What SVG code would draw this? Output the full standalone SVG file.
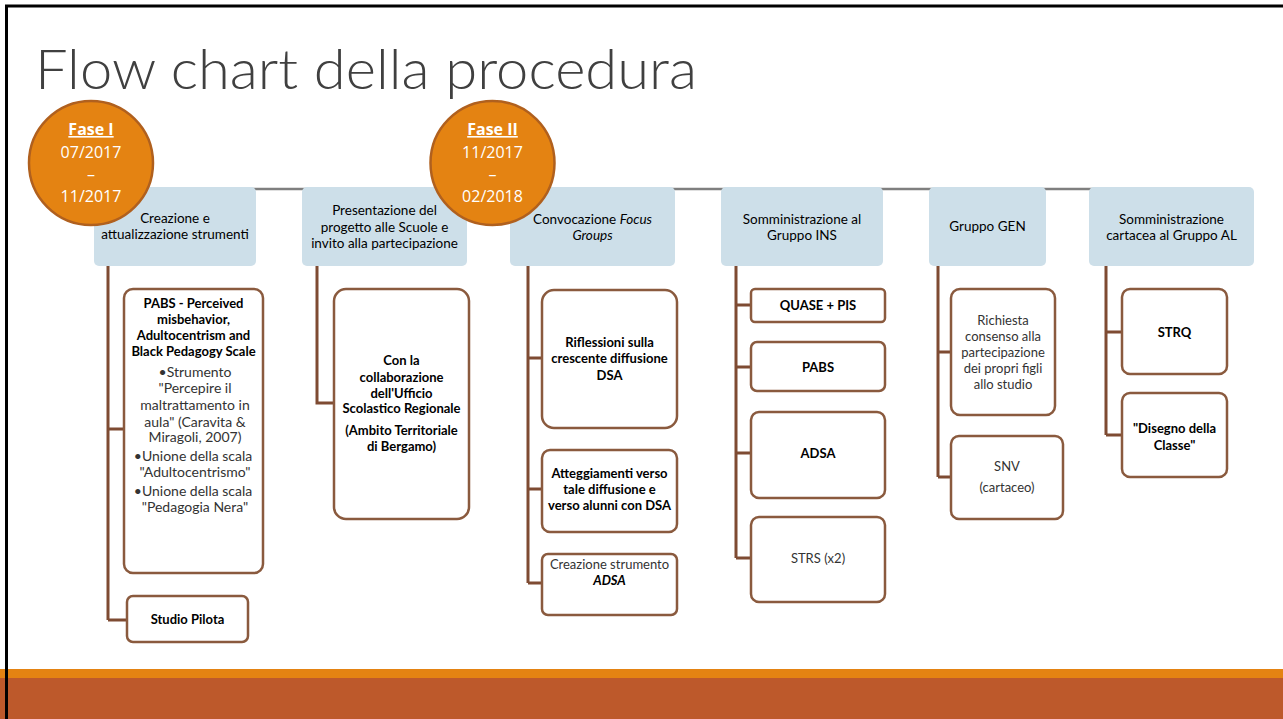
<svg xmlns="http://www.w3.org/2000/svg" width="1283" height="719" viewBox="0 0 1283 719">
<style>
.hdr{fill:#cddfe9;}
.box{fill:#ffffff;stroke:#8a5a3e;stroke-width:2.5;}
.con{fill:none;stroke:#7e4b32;stroke-width:3;}
.t{font-family:Lato,"Liberation Sans",sans-serif;font-size:13px;text-anchor:middle;fill:#000;}
.h{font-size:13.5px;}
.b{font-weight:700;}
.r{fill:#333;}
.big{font-size:14px;}
.cir{fill:#e48312;stroke:#b0601e;stroke-width:2.5;}
.ct{font-family:"Open Sans","Liberation Sans",sans-serif;font-size:16px;fill:#fff;text-anchor:middle;}
</style>
<rect x="0" y="0" width="1283" height="719" fill="#fff"/>
<rect x="6.5" y="6" width="1290" height="720" fill="none" stroke="#000" stroke-width="3"/>
<text x="35" y="89" font-family="Lato,'Open Sans','Liberation Sans',sans-serif" font-weight="300" font-size="56" fill="#404040" textLength="662" lengthAdjust="spacingAndGlyphs">Flow chart della procedura</text>

<g id="connectors">
<line x1="175" y1="189" x2="1171" y2="189" stroke="#7f7f7f" stroke-width="2.5"/>
<path class="con" d="M108 266V620M108 429H124M108 620H127"/>
<path class="con" d="M317 266V403H334"/>
<path class="con" d="M528 266V583M528 358H542M528 489H542M528 583H542"/>
<path class="con" d="M736 266V558M736 305H751M736 367H751M736 453H751M736 558H751"/>
<path class="con" d="M938 266V477M938 352H951M938 477H951"/>
<path class="con" d="M1106 266V435M1106 332H1122M1106 435H1122"/>
</g>

<g id="h1"><rect class="hdr" x="94" y="187" width="162" height="79" rx="5"/>
<text class="t h" x="175" y="223">Creazione e</text><text class="t h" x="175" y="239">attualizzazione strumenti</text></g>
<g id="h2"><rect class="hdr" x="302" y="187" width="165" height="79" rx="5"/>
<text class="t h" x="384.5" y="215">Presentazione del</text><text class="t h" x="384.5" y="232">progetto alle Scuole e</text><text class="t h" x="384.5" y="248">invito alla partecipazione</text></g>
<g id="h3"><rect class="hdr" x="510" y="187" width="165" height="79" rx="5"/>
<text class="t h" x="592.5" y="224">Convocazione <tspan font-style="italic">Focus</tspan></text><text class="t h" x="592.5" y="240" font-style="italic">Groups</text></g>
<g id="h4"><rect class="hdr" x="721" y="187" width="162" height="79" rx="5"/>
<text class="t h" x="802" y="224">Somministrazione al</text><text class="t h" x="802" y="240">Gruppo INS</text></g>
<g id="h5"><rect class="hdr" x="929" y="187" width="117" height="79" rx="5"/>
<text class="t h" x="987.5" y="231">Gruppo GEN</text></g>
<g id="h6"><rect class="hdr" x="1089" y="187" width="165" height="79" rx="5"/>
<text class="t h" x="1171.5" y="224">Somministrazione</text><text class="t h" x="1171.5" y="240">cartacea al Gruppo AL</text></g>

<g id="fase1"><circle class="cir" cx="91" cy="163" r="62"/>
<text class="ct" x="91" y="135" font-weight="700" text-decoration="underline">Fase I</text>
<text class="ct" x="91" y="158">07/2017</text><text class="ct" x="91" y="180">–</text><text class="ct" x="91" y="202">11/2017</text></g>
<g id="fase2"><circle class="cir" cx="492.5" cy="163" r="62"/>
<text class="ct" x="492.5" y="135" font-weight="700" text-decoration="underline">Fase II</text>
<text class="ct" x="492.5" y="158">11/2017</text><text class="ct" x="492.5" y="180">–</text><text class="ct" x="492.5" y="202">02/2018</text></g>

<g id="pabs1"><rect class="box" x="124" y="289" width="139" height="284" rx="9"/>
<text class="t b" x="193.5" y="308">PABS - Perceived</text>
<text class="t b" x="193.5" y="324">misbehavior,</text>
<text class="t b" x="193.5" y="340">Adultocentrism and</text>
<text class="t b" x="193.5" y="356">Black Pedagogy Scale</text>
<text class="t r big" x="195" y="377">•Strumento</text>
<text class="t r big" x="195" y="393">"Percepire il</text>
<text class="t r big" x="195" y="410">maltrattamento in</text>
<text class="t r big" x="195" y="427">aula" (Caravita &amp;</text>
<text class="t r big" x="195" y="442">Miragoli, 2007)</text>
<text class="t r big" x="193" y="461">•Unione della scala</text>
<text class="t r big" x="195" y="477">"Adultocentrismo"</text>
<text class="t r big" x="193" y="496">•Unione della scala</text>
<text class="t r big" x="195" y="512">"Pedagogia Nera"</text></g>
<g id="pilota"><rect class="box" x="127" y="596" width="121" height="46" rx="6"/>
<text class="t b" x="187.5" y="624">Studio Pilota</text></g>

<g id="collab"><rect class="box" x="334" y="289" width="135" height="230" rx="12"/>
<text class="t b" x="401.5" y="365">Con la</text>
<text class="t b" x="401.5" y="382">collaborazione</text>
<text class="t b" x="401.5" y="398">dell'Ufficio</text>
<text class="t b" x="401.5" y="413">Scolastico Regionale</text>
<text class="t b" x="401.5" y="435">(Ambito Territoriale</text>
<text class="t b" x="401.5" y="451">di Bergamo)</text></g>

<g id="rifl"><rect class="box" x="542" y="290" width="135" height="138" rx="12"/>
<text class="t b" x="609.5" y="347">Riflessioni sulla</text>
<text class="t b" x="609.5" y="363">crescente diffusione</text>
<text class="t b" x="609.5" y="380">DSA</text></g>
<g id="atteg"><rect class="box" x="542" y="450" width="135" height="82" rx="8"/>
<text class="t b" x="609.5" y="478">Atteggiamenti verso</text>
<text class="t b" x="609.5" y="494">tale diffusione e</text>
<text class="t b" x="609.5" y="510">verso alunni con DSA</text></g>
<g id="creaz"><rect class="box" x="542" y="554" width="135" height="61" rx="6"/>
<text class="t r" x="609.5" y="569">Creazione strumento</text>
<text class="t b" x="609.5" y="585" font-style="italic">ADSA</text></g>

<g id="quase"><rect class="box" x="751" y="289" width="134" height="33" rx="4"/>
<text class="t b" x="818" y="310">QUASE + PIS</text></g>
<g id="pabs4"><rect class="box" x="751" y="342" width="134" height="49" rx="6"/>
<text class="t b" x="818" y="372">PABS</text></g>
<g id="adsa"><rect class="box" x="751" y="412" width="134" height="86" rx="8"/>
<text class="t b" x="818" y="458">ADSA</text></g>
<g id="strs"><rect class="box" x="751" y="517" width="134" height="85" rx="8"/>
<text class="t r" x="818" y="563">STRS (x2)</text></g>

<g id="richiesta"><rect class="box" x="951" y="289" width="104" height="126" rx="9"/>
<text class="t r" x="1003" y="325">Richiesta</text>
<text class="t r" x="1003" y="341">consenso alla</text>
<text class="t r" x="1003" y="357">partecipazione</text>
<text class="t r" x="1003" y="373">dei propri figli</text>
<text class="t r" x="1003" y="389">allo studio</text></g>
<g id="snv"><rect class="box" x="951" y="436" width="112" height="83" rx="8"/>
<text class="t r" x="1007" y="471">SNV</text>
<text class="t r" x="1007" y="492">(cartaceo)</text></g>

<g id="strq"><rect class="box" x="1122" y="289" width="105" height="85" rx="8"/>
<text class="t b" x="1174.5" y="337">STRQ</text></g>
<g id="disegno"><rect class="box" x="1122" y="393" width="105" height="84" rx="8"/>
<text class="t b" x="1174.5" y="433">"Disegno della</text>
<text class="t b" x="1174.5" y="450">Classe"</text></g>

<rect x="0" y="669" width="1283" height="9" fill="#e48312"/>
<rect x="0" y="678" width="1283" height="41" fill="#bd592b"/>
<line x1="6.5" y1="669" x2="6.5" y2="719" stroke="#000" stroke-width="3"/>
</svg>
